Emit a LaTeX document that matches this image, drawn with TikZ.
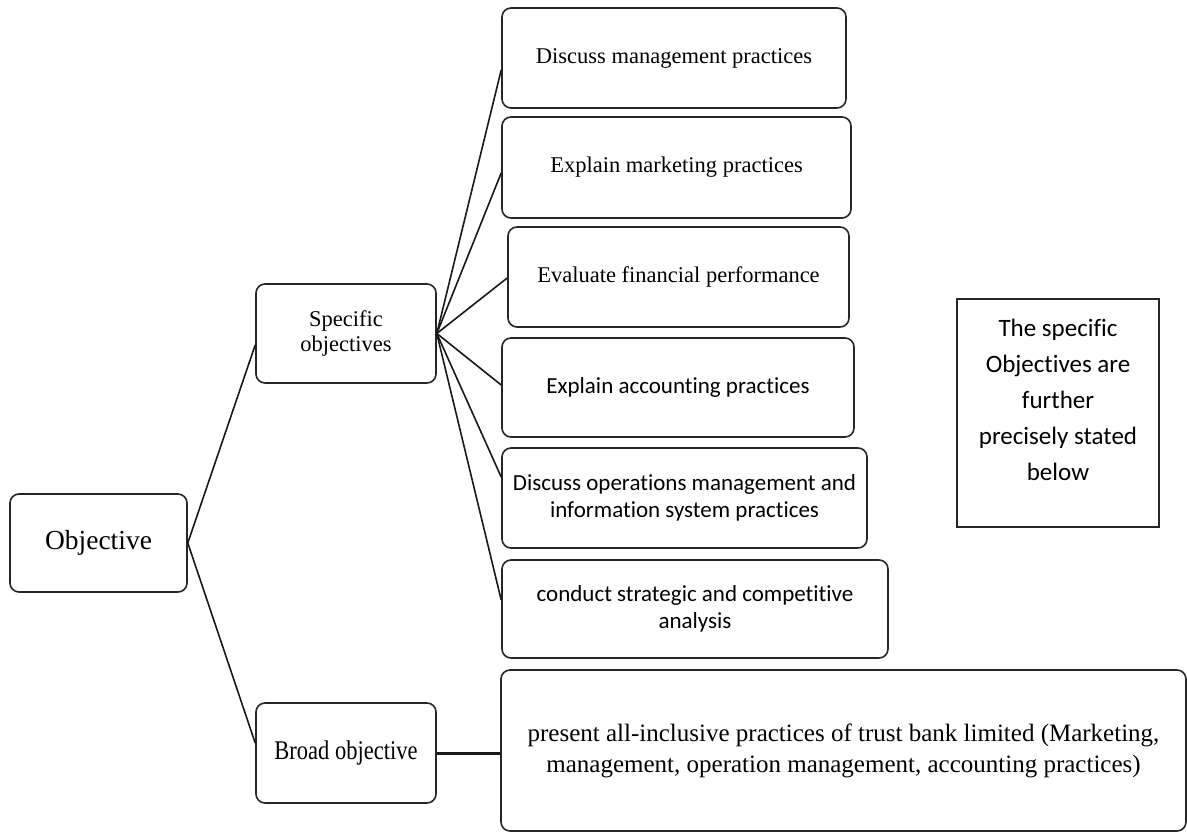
\documentclass[tikz,border=0pt]{standalone}
\usepackage{fontspec}
\usetikzlibrary{calc}
\newfontfamily\tmsfont{Liberation Serif}
\newfontfamily\calibfont[Ligatures=NoCommon]{Carlito}
\begin{document}
\begin{tikzpicture}[x=1pt,y=-1pt,
  box/.style={draw=black!85,line width=1.6pt,rounded corners=9pt,inner sep=0pt,align=center},
  link/.style={draw=black!90,line width=1.6pt},
  serifA/.style={font=\tmsfont\fontsize{22.5}{25}\selectfont},
  sansA/.style={font=\calibfont\fontsize{23}{27.5}\selectfont}]
\useasboundingbox[fill=white] (0,0) rectangle (1187,832);

% root and the two branches
\node[box,minimum width=177pt,minimum height=98pt,font=\tmsfont\fontsize{27.5}{33}\selectfont] (obj) at (98.5,543) {Objective};
\node[box,serifA,minimum width=180pt,minimum height=99pt] (spec) at (346,333.5) {Specific\\objectives};
\node[box,minimum width=180pt,minimum height=100pt] (broad) at (346,753)
  {\scalebox{1}[1.2]{\tmsfont\fontsize{22.5}{25}\selectfont Broad objective}};

% specific objectives
\node[box,serifA,minimum width=344pt,minimum height=100pt] (s1) at (674,58) {Discuss management practices};
\node[box,serifA,minimum width=349pt,minimum height=101pt] (s2) at (676.5,167.5) {Explain marketing practices};
\node[box,serifA,minimum width=341pt,minimum height=100pt] (s3) at (678.5,277) {Evaluate financial performance};
\node[box,sansA,minimum width=352pt,minimum height=99pt] (s4) at (678,387.5) {Explain accounting practices};
\node[box,sansA,minimum width=365pt,minimum height=100pt] (s5) at (684.5,498) {Discuss operations management and\\information system practices};
\node[box,sansA,minimum width=386pt,minimum height=98pt] (s6) at (695,609) {conduct strategic and competitive\\analysis};

% broad objective statement
\node[box,minimum width=685pt,minimum height=161pt,font=\tmsfont\fontsize{25}{31}\selectfont] (big) at (843.5,750.5)
  {present all-inclusive practices of trust bank limited (Marketing,\\management, operation management, accounting practices)};

% side note
\node[draw=black!85,line width=1.6pt,inner sep=0pt,minimum width=202pt,minimum height=228pt] (note) at (1058,413)
  {\parbox{190pt}{\centering\calibfont\fontsize{25}{36}\selectfont The specific\\Objectives are\\further\\precisely stated\\below\par\vspace{26pt}}};

% connectors
\draw[link] (obj.east) -- ($(spec.west)+(0,11.5)$);
\draw[link] (obj.east) -- ($(broad.west)+(0,-10)$);
\draw[link] (spec.east) -- ($(s1.west)+(0,12)$);
\draw[link] (spec.east) -- ($(s2.west)+(0,5.5)$);
\draw[link] (spec.east) -- ($(s3.west)+(0,1)$);
\draw[link] (spec.east) -- ($(s4.west)+(0,-2.5)$);
\draw[link] (spec.east) -- ($(s5.west)+(0,-21)$);
\draw[link] (spec.east) -- ($(s6.west)+(0,-9)$);
\draw[link,line width=3pt] (broad.east) -- (broad.east -| big.west);
\end{tikzpicture}
\end{document}
